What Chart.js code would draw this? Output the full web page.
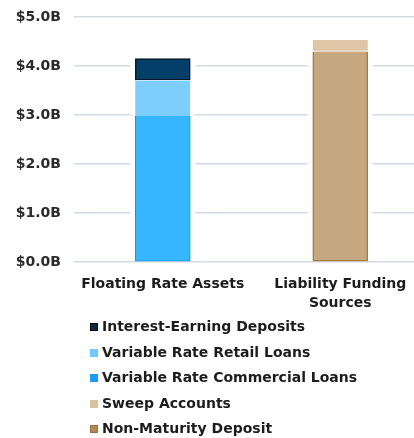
<!DOCTYPE html>
<html>
<head>
<meta charset="utf-8">
<script src="https://cdn.jsdelivr.net/npm/chart.js@4"></script>
<style>
  html, body { margin: 0; padding: 0; background: #fff; overflow: hidden; }
  body { width: 414px; height: 438px; position: relative; }
  #wrap { position: absolute; left: 0; top: 0; width: 429px; height: 320px; }
  #legend { position: absolute; left: 90px; top: 314px; font-family: "DejaVu Sans", sans-serif; font-weight: bold; font-size: 14px; color: #1c1c1c; }
  .item { height: 25.5px; line-height: 25.5px; white-space: nowrap; }
  .box { display: inline-block; width: 8px; height: 8px; margin-right: 4px; vertical-align: 0px; }
</style>
</head>
<body>
<div id="wrap"><canvas id="chart"></canvas></div>
<div id="legend"></div>
<script>
// categories and values (billions)
const categories = [['Floating Rate Assets'], ['Liability Funding', 'Sources']];
const commercialLoans = [2.98, null];
const retailLoans = [0.73, null];
const interestDeposits = [0.44, null];
const nonMaturity = [null, 4.29];
const sweepAccounts = [null, 0.24];
const yTicks = [0, 1, 2, 3, 4, 5];

const legendItems = [
    { label: 'Interest-Earning Deposits', color: '#0a2c48', border: '#000' },
    { label: 'Variable Rate Retail Loans', color: '#6fcbfb', border: '#6fcbfb' },
    { label: 'Variable Rate Commercial Loans', color: '#1f9cf0', border: '#1f9cf0' },
    { label: 'Sweep Accounts', color: '#d9c2a0', border: '#d9c2a0' },
    { label: 'Non-Maturity Deposit', color: '#b08a55', border: '#9a7440' }
];

const legend = document.getElementById('legend');
legendItems.forEach(it => {
    const row = document.createElement('div');
    row.className = 'item';
    row.innerHTML = `<span class="box" style="background:${it.color};outline:1px solid ${it.border};outline-offset:-1px"></span>${it.label}`;
    legend.appendChild(row);
});

// white gap where grid lines meet the bars
const barGap = {
    id: 'barGap',
    beforeDatasetsDraw(chart) {
        const ctx = chart.ctx;
        ctx.save();
        ctx.fillStyle = '#fff';
        chart.data.datasets.forEach((ds, i) => {
            chart.getDatasetMeta(i).data.forEach((bar, j) => {
                if (ds.data[j] == null) return;
                const p = bar.getProps(['x', 'y', 'base', 'width'], true);
                ctx.fillRect(p.x - p.width / 2 - 5, p.y, p.width + 10, p.base - p.y - 1);
            });
        });
        ctx.restore();
    }
};

const ctx = document.getElementById('chart').getContext('2d');
new Chart(ctx, {
    type: 'bar',
    data: {
        labels: categories,
        datasets: [
            {
                label: 'Variable Rate Commercial Loans',
                data: commercialLoans,
                backgroundColor: '#36b6fd',
                borderColor: '#1a8fe6',
                borderWidth: { left: 1, right: 1, bottom: 1, top: 0 },
                borderSkipped: false
            },
            {
                label: 'Variable Rate Retail Loans',
                data: retailLoans,
                backgroundColor: '#7dcefd',
                borderColor: '#c8ecfe',
                borderWidth: { left: 0, right: 0, bottom: 0, top: 1 },
                borderSkipped: false
            },
            {
                label: 'Interest-Earning Deposits',
                data: interestDeposits,
                backgroundColor: '#033f69',
                borderColor: '#08172a',
                borderWidth: 1.5,
                borderSkipped: false
            },
            {
                label: 'Non-Maturity Deposit',
                data: nonMaturity,
                backgroundColor: '#c6a880',
                borderColor: '#a87c45',
                borderWidth: { left: 1.5, right: 1.5, bottom: 1.5, top: 0 },
                borderSkipped: false
            },
            {
                label: 'Sweep Accounts',
                data: sweepAccounts,
                backgroundColor: '#dec6a6',
                borderColor: '#f1e6d6',
                borderWidth: { left: 0, right: 0, bottom: 1.5, top: 0 },
                borderSkipped: false
            }
        ]
    },
    options: {
        responsive: true,
        maintainAspectRatio: false,
        animation: false,
        layout: { padding: { top: 17, right: 0, left: 0, bottom: 0 } },
        plugins: {
            legend: { display: false },
            tooltip: { enabled: false }
        },
        datasets: {
            bar: { barThickness: 55, grouped: false }
        },
        scales: {
            x: {
                stacked: true,
                grid: { display: false },
                border: { display: false },
                ticks: {
                    color: '#1c1c1c',
                    padding: 5,
                    maxRotation: 0,
                    font: { family: 'DejaVu Sans', size: 14, weight: 'bold', lineHeight: 1.36 }
                },
                afterFit(scale) { scale.height = 58; scale.paddingLeft = 0; scale.paddingRight = 0; }
            },
            y: {
                stacked: true,
                min: 0,
                max: 5,
                afterBuildTicks(scale) { scale.ticks = yTicks.map(v => ({ value: v })); },
                grid: { color: '#d3dbe2', lineWidth: 1.5, drawTicks: false },
                border: { display: false },
                ticks: {
                    color: '#2a2a2a',
                    padding: 13,
                    font: { family: 'DejaVu Sans', size: 14, weight: 'bold' },
                    callback: v => '$' + v.toFixed(1) + 'B'
                },
                afterFit(scale) { scale.width = 74; scale.paddingTop = 0; scale.paddingBottom = 0; }
            }
        }
    },
    plugins: [barGap]
});
</script>
</body>
</html>
